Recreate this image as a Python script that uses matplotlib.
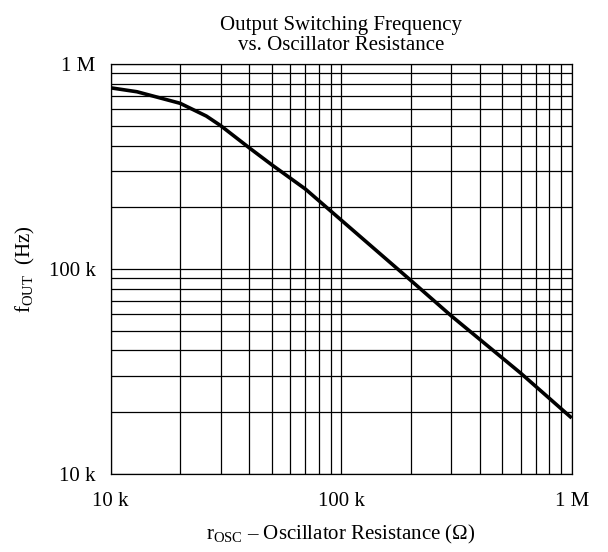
import matplotlib
matplotlib.use("Agg")
import matplotlib.pyplot as plt
from matplotlib.ticker import FixedLocator, LogLocator, NullFormatter

plt.rcParams['font.family'] = ['Liberation Serif', 'DejaVu Serif']
plt.rcParams['mathtext.fontset'] = 'custom'
plt.rcParams['mathtext.rm'] = 'Liberation Serif'
plt.rcParams['mathtext.it'] = 'Liberation Serif:italic'

# curve (ohm, Hz)
r_osc = [10e3, 13e3, 20e3, 26e3, 30e3, 40e3, 50e3, 70e3, 100e3, 200e3, 300e3, 600e3, 1e6]
f_out = [765e3, 732e3, 643e3, 557e3, 500e3, 389e3, 322e3, 245e3, 173e3, 88e3, 59e3, 31e3, 18.7e3]

x_ticks = [10e3, 100e3, 1e6]
x_labels = ["10 k", "100 k", "1 M"]
y_ticks = [10e3, 100e3, 1e6]
y_labels = ["10 k", "100 k", "1 M"]

fs = 15

fig = plt.figure(figsize=(6.08, 5.52), dpi=100)
ax = fig.add_axes([110.7 / 608, 1 - 473.7 / 552, 461 / 608, 409.7 / 552])

ax.set_xscale("log")
ax.set_yscale("log")
ax.set_xlim(10e3, 1e6)
ax.set_ylim(10e3, 1e6)

ax.xaxis.set_major_locator(FixedLocator(x_ticks))
ax.yaxis.set_major_locator(FixedLocator(y_ticks))
ax.xaxis.set_minor_locator(LogLocator(base=10, subs=range(2, 10)))
ax.yaxis.set_minor_locator(LogLocator(base=10, subs=range(2, 10)))
ax.xaxis.set_minor_formatter(NullFormatter())
ax.yaxis.set_minor_formatter(NullFormatter())
ax.set_xticklabels(x_labels)
ax.set_yticklabels(y_labels)

ax.grid(True, which="both", color="black", linewidth=0.9)
ax.tick_params(which="both", length=0, labelsize=fs)
ax.tick_params(axis="x", pad=13)
ax.tick_params(axis="y", pad=11)
for s in ax.spines.values():
    s.set_linewidth(0.9)

ax.plot(r_osc, f_out, color="black", linewidth=2.6, solid_capstyle="butt")

ax.set_title("Output Switching Frequency\nvs. Oscillator Resistance", fontsize=fs, pad=10, linespacing=1.1)
ax.set_xlabel(r"r$_{\mathrm{OSC}}$ – Oscillator Resistance ($\Omega$)", fontsize=fs, labelpad=9)
ax.set_ylabel(r"f$_{\mathrm{OUT}}$  (Hz)", fontsize=fs, labelpad=8)

fig.savefig("out.png", dpi=100)
